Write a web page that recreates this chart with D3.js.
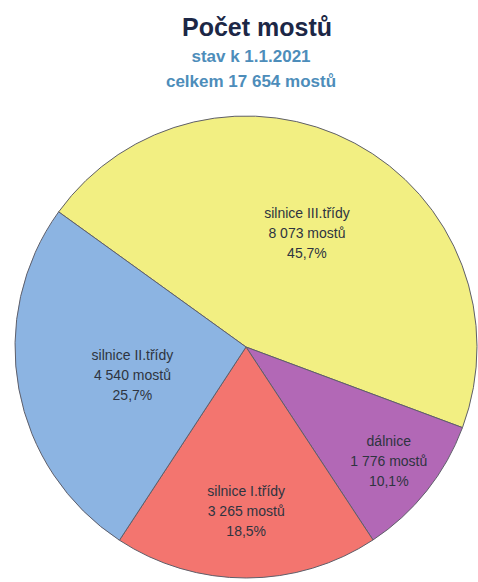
<!DOCTYPE html>
<html>
<head>
<meta charset="utf-8">
<script src="https://cdn.jsdelivr.net/npm/d3@7"></script>
<style>
  body { margin: 0; background: #fff; }
  svg { display: block; font-family: "Liberation Sans", Arial, sans-serif; }
</style>
</head>
<body>
<div id="chart"></div>
<script>
const width = 478;
const height = 582;

// Data
const categories = ["silnice III.třídy", "dálnice", "silnice I.třídy", "silnice II.třídy"];
const counts = [8073, 1776, 3265, 4540];
const countLabels = ["8 073 mostů", "1 776 mostů", "3 265 mostů", "4 540 mostů"];
const percents = ["45,7%", "10,1%", "18,5%", "25,7%"];
const colors = ["#f2ef82", "#b268b6", "#f3756f", "#8cb4e2"];

const title = "Počet mostů";
const subtitles = ["stav k 1.1.2021", "celkem 17 654 mostů"];

const narrow = "'Liberation Sans Narrow', 'Arial Narrow', 'Liberation Sans', sans-serif";

const svg = d3.select("#chart")
    .append("svg")
    .attr("width", width)
    .attr("height", height);

// Titles
svg.append("text")
    .attr("x", 257)
    .attr("y", 36)
    .attr("text-anchor", "middle")
    .attr("font-size", 25)
    .attr("font-weight", "bold")
    .attr("fill", "#1c2746")
    .text(title);

svg.selectAll(".sub")
    .data(subtitles)
    .enter()
    .append("text")
    .attr("class", "sub")
    .attr("x", 251)
    .attr("y", (d, i) => 62 + i * 25)
    .attr("text-anchor", "middle")
    .attr("font-family", narrow)
    .attr("font-size", 17)
    .attr("font-weight", "bold")
    .attr("fill", "#4d8dba")
    .text(d => d);

// Pie
const cx = 246, cy = 347, r = 231;

const pie = d3.pie()
    .sort(null)
    .startAngle(-54.2 * Math.PI / 180)
    .endAngle((360 - 54.2) * Math.PI / 180);

const arcs = pie(counts);

const arc = d3.arc().innerRadius(0).outerRadius(r);

const g = svg.append("g")
    .attr("transform", `translate(${cx}, ${cy})`);

g.selectAll("path")
    .data(arcs)
    .enter()
    .append("path")
    .attr("d", arc)
    .attr("fill", (d, i) => colors[i])
    .attr("stroke", "#5f5f6a")
    .attr("stroke-width", 1);

// Labels (placed along the slice's mid angle)
const labelRadius = [0.56, 0.79, 0.71, 0.5];
const labelShift = [0, 0, 0, 7];

const labels = g.selectAll(".lbl")
    .data(arcs)
    .enter()
    .append("text")
    .attr("class", "lbl")
    .attr("text-anchor", "middle")
    .attr("font-family", narrow)
    .attr("font-size", 14)
    .attr("fill", "#2e3440")
    .attr("transform", (d, i) => {
        const a = (d.startAngle + d.endAngle) / 2;
        const rr = r * labelRadius[i];
        return `translate(${Math.sin(a) * rr}, ${-Math.cos(a) * rr + 5 + labelShift[i]})`;
    });

labels.append("tspan").attr("x", 0).attr("dy", -20).text((d, i) => categories[i]);
labels.append("tspan").attr("x", 0).attr("dy", 20).text((d, i) => countLabels[i]);
labels.append("tspan").attr("x", 0).attr("dy", 20).text((d, i) => percents[i]);
</script>
</body>
</html>
